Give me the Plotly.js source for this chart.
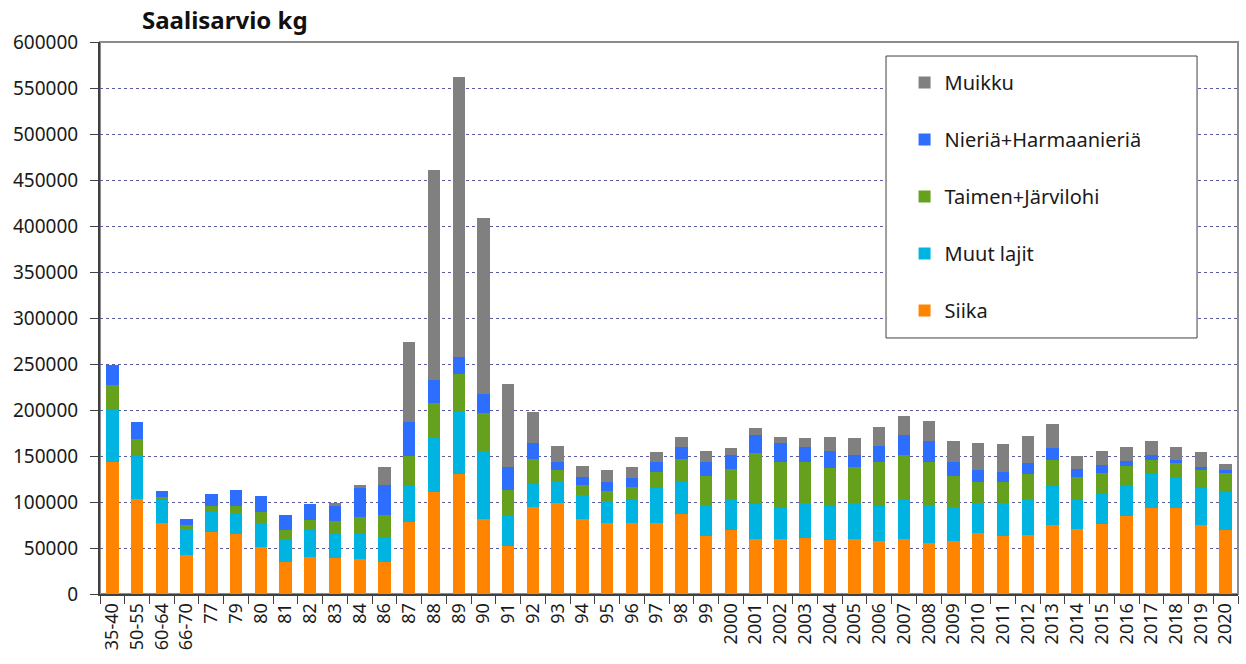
<!DOCTYPE html>
<html>
<head>
<meta charset="utf-8">
<script src="https://cdn.plot.ly/plotly-3.0.1.min.js"></script>
<style>
  html, body { margin: 0; padding: 0; background: #ffffff; }
  #chart { width: 1246px; height: 664px; }
</style>
</head>
<body>
<div id="chart"></div>
<script>
// Catch period / year labels
const categories = ['35-40','50-55','60-64','66-70','77','79','80','81','82','83','84','86','87','88','89','90',
  '91','92','93','94','95','96','97','98','99','2000','2001','2002','2003','2004','2005','2006','2007','2008',
  '2009','2010','2011','2012','2013','2014','2015','2016','2017','2018','2019','2020'];

// Catch estimates per species group, kg
const siika = [144000,103000,77000,42000,67000,65500,51000,35000,40000,39000,38000,35000,78000,111000,130000,81500,
  52500,95000,99000,81000,77000,77000,77500,87000,62700,69600,59400,59800,61000,58400,59400,57600,59800,55400,
  57300,66000,63400,64100,74700,70300,75800,84800,93900,93500,75000,69900];
const muutLajit = [56000,47000,25000,29000,22000,21500,26000,25000,30000,27000,27500,26500,39500,59000,68000,73500,
  32500,25000,23500,27000,24000,25700,37500,35800,34000,33700,38400,34100,37700,36900,39200,38400,42700,41000,
  37300,32600,35200,38800,43000,32200,33200,32900,37300,34000,39900,41300];
const taimenJarvilohi = [27000,18500,3500,4000,7000,9000,12000,10000,10000,13000,18000,24000,33000,38000,41000,41500,
  28000,26700,12200,11000,11000,13800,18000,24000,31600,32200,55100,49300,44900,42000,39400,47200,48200,46800,
  33700,23100,22800,27900,28300,24700,22200,21100,14800,15200,20200,20300];
const nieriaHarmaanieria = [22000,18000,7000,6000,13000,17000,18000,16000,17500,17000,31500,33000,36500,25000,19000,21000,
  24700,17300,8800,8000,10000,9700,10800,13000,15500,15200,20300,20600,16000,18100,13100,17300,21800,23400,
  15500,13400,11200,11600,12700,8700,8700,5800,5400,3300,2600,3300];
const muikku = [0,0,0,0,0,0,0,0,0,3000,3000,20000,87000,228000,303500,191600,
  90300,33800,17800,12400,12500,11400,10600,10500,11600,8000,7600,6500,10500,15600,18100,21400,21300,21800,
  22800,29400,30100,29300,25700,14100,15500,15500,14600,13800,17000,6200];

// Stacked bottom to top; the legend lists them top to bottom
const seriesNames = ['Siika', 'Muut lajit', 'Taimen+Järvilohi', 'Nieriä+Harmaanieriä', 'Muikku'];
const seriesValues = [siika, muutLajit, taimenJarvilohi, nieriaHarmaanieria, muikku];
const seriesColors = ['#FF8400', '#00B4E1', '#65A11D', '#2E6EFF', '#808080'];

const FONT = '"Noto Sans", "Open Sans", sans-serif';

const traces = seriesNames.map((name, i) => ({
  type: 'bar',
  name: name,
  x: categories,
  y: seriesValues[i],
  marker: { color: seriesColors[i], line: { width: 0 } },
  legendgroup: 'g' + i,
  legendrank: seriesNames.length - i,
  hovertemplate: '%{x}: %{y} kg<extra>' + name + '</extra>'
}));

const layout = {
  width: 1246,
  height: 664,
  autosize: false,
  margin: { l: 100, r: 8, t: 42, b: 70, pad: 0 },
  paper_bgcolor: '#ffffff',
  plot_bgcolor: '#ffffff',
  barmode: 'stack',
  bargap: 0.5,
  font: { family: FONT, size: 18, color: '#1a1a1a' },
  title: {
    text: '<b>Saalisarvio kg</b>',
    font: { family: FONT, size: 24, color: '#111111' },
    xref: 'container', x: 142 / 1246, xanchor: 'left',
    yref: 'container', y: 1 - 21 / 664, yanchor: 'middle'
  },
  xaxis: {
    type: 'category',
    range: [-0.5, categories.length - 0.5],
    showline: true, linecolor: '#404040', linewidth: 2,
    ticks: 'outside', tickson: 'boundaries', ticklen: 8, tickcolor: '#404040', tickwidth: 1,
    tickangle: -90,
    tickfont: { family: FONT, size: 18, color: '#1a1a1a' },
    showgrid: false, zeroline: false, fixedrange: true
  },
  yaxis: {
    range: [0, 600000],
    dtick: 50000, tick0: 0,
    tickformat: 'd',
    showline: true, linecolor: '#404040', linewidth: 2,
    ticks: 'outside', ticklen: 8, tickcolor: '#404040', tickwidth: 1,
    ticklabelstandoff: 8,
    tickfont: { family: FONT, size: 19, color: '#1a1a1a' },
    showgrid: true, gridcolor: '#5a5aa0', griddash: 'dot', gridwidth: 1,
    zeroline: false, fixedrange: true
  },
  legend: {
    x: 0.707, xanchor: 'left',
    y: 0.962, yanchor: 'top',
    bgcolor: 'rgba(0,0,0,0)', borderwidth: 0,
    traceorder: 'grouped',
    tracegroupgap: 28,
    font: { family: FONT, size: 20, color: '#1a1a1a' },
    itemclick: false, itemdoubleclick: false
  },
  shapes: [
    // plot frame
    { type: 'rect', xref: 'paper', yref: 'paper', x0: 0, x1: 1, y0: 0, y1: 1,
      line: { color: '#8c8c8c', width: 2 }, layer: 'below' },
    // legend box
    { type: 'rect', xref: 'paper', yref: 'paper', x0: 0.6907, x1: 0.964, y0: 0.4638, y1: 0.9746,
      line: { color: '#404040', width: 1 }, fillcolor: '#ffffff', layer: 'above' }
  ],
  showlegend: true
};

Plotly.newPlot('chart', traces, layout, { displayModeBar: false });
</script>
</body>
</html>
